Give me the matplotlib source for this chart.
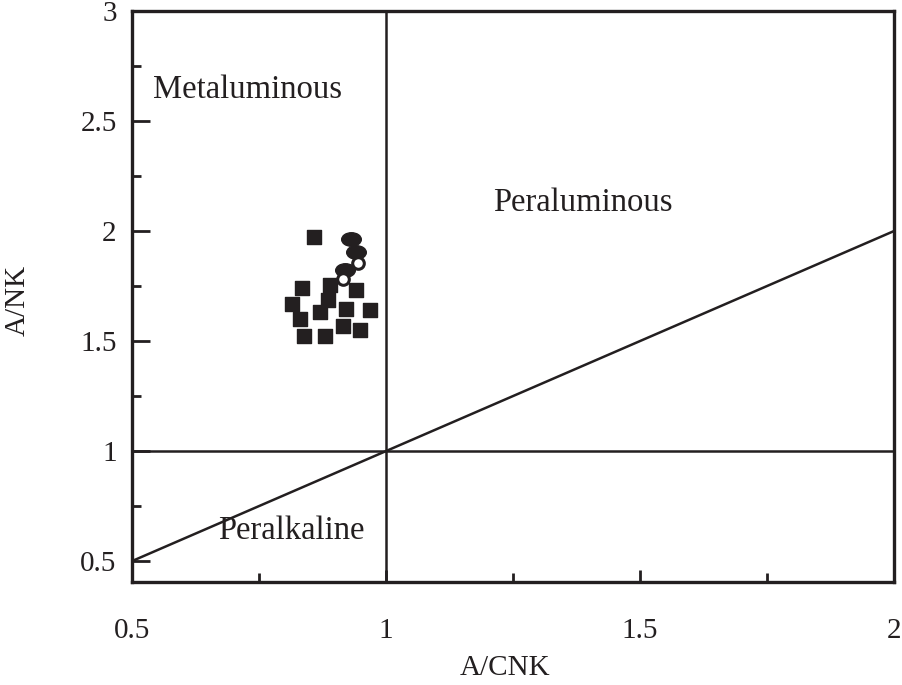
import matplotlib
matplotlib.use('Agg')
import matplotlib.pyplot as plt
from matplotlib.markers import MarkerStyle
from matplotlib.transforms import Affine2D
from matplotlib.ticker import MultipleLocator

plt.rcParams['font.family'] = ['Liberation Serif', 'DejaVu Serif']

# A/CNK vs A/NK samples
sq_x = [0.859, 0.834, 0.890, 0.940, 0.814, 0.886, 0.870, 0.921, 0.969, 0.831, 0.915, 0.949, 0.839, 0.879]
sq_y = [1.974, 1.740, 1.755, 1.732, 1.668, 1.686, 1.633, 1.644, 1.641, 1.600, 1.568, 1.550, 1.524, 1.523]

ell_x = [0.932, 0.941, 0.919]
ell_y = [1.964, 1.905, 1.823]

open_x = [0.945, 0.915]
open_y = [1.856, 1.780]

# field boundaries
div_x = [0.5, 2.0]
div_y = [0.5, 2.0]

fig = plt.figure(figsize=(9.03, 6.85), dpi=100)
ax = fig.add_axes([132/903, 1-582/685, 762/903, 571/685])

ax.plot([1, 1], [0.405, 3], color='#231f20', lw=1.8)
ax.plot([0.5, 2], [1, 1], color='#231f20', lw=1.8)
ax.plot(div_x, div_y, color='#231f20', lw=1.8)

ax.scatter(sq_x, sq_y, marker='s', s=110, color='#231f20', zorder=3)
oval = MarkerStyle('o', transform=Affine2D().scale(1.45, 1.0))
ax.scatter(ell_x, ell_y, marker=oval, s=95, color='#231f20', zorder=4)
ax.scatter(open_x, open_y, marker='o', s=70, facecolor='white',
           edgecolor='#231f20', linewidths=2.2, zorder=5)

ax.text(0.541, 2.64, 'Metaluminous', fontsize=23.5, va='center', ha='left', color='#231f20')
ax.text(1.211, 2.13, 'Peraluminous', fontsize=23.5, va='center', ha='left', color='#231f20')
ax.text(0.669, 0.64, 'Peralkaline', fontsize=23.5, va='center', ha='left', color='#231f20')

ax.set_xlim(0.5, 2.0)
ax.set_ylim(0.405, 3.0)
ax.set_xticks([0.5, 1, 1.5, 2])
ax.set_xticklabels(['0.5', '1', '1.5', '2'])
ax.set_yticks([0.5, 1, 1.5, 2, 2.5, 3])
ax.set_yticklabels(['0.5', '1', '1.5', '2', '2.5', '3'])
ax.xaxis.set_minor_locator(MultipleLocator(0.25))
ax.yaxis.set_minor_locator(MultipleLocator(0.25))

ax.tick_params(axis='x', which='major', direction='in', length=9, width=2, pad=26,
               labelsize=21, colors='#231f20')
ax.tick_params(axis='y', which='major', direction='in', length=13, width=2, pad=11,
               labelsize=21, colors='#231f20')
ax.tick_params(which='minor', direction='in', length=6.5, width=2, colors='#231f20')

for sp in ax.spines.values():
    sp.set_linewidth(2.4)
    sp.set_color('#231f20')

fig.text(505/903, 1-668/685, 'A/CNK', fontsize=21, ha='center', va='center', color='#231f20')
fig.text(18/903, 1-300/685, 'A/NK', fontsize=21, ha='center', va='center',
         rotation=90, color='#231f20')

fig.savefig('out.png', dpi=100)
